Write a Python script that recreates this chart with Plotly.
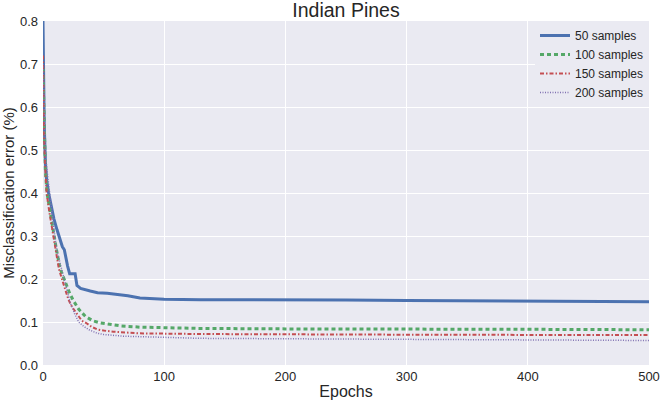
import plotly.graph_objects as go

# readings (epoch, misclassification error)
ep_50 = [0, 1, 2, 3, 4.6, 7.4, 9, 11.5, 13, 14.8, 16, 17.6, 19, 20.3, 22, 26.5, 28, 31, 39,
         45, 53, 62, 70, 80, 90, 100, 130, 200, 250, 300, 400, 450, 500]
err_50 = [0.80, 0.56, 0.47, 0.43, 0.40, 0.362, 0.34, 0.315, 0.30, 0.288, 0.275, 0.268, 0.245,
          0.23, 0.212, 0.212, 0.185, 0.178, 0.172, 0.168, 0.167, 0.164, 0.161, 0.156, 0.154,
          0.153, 0.152, 0.152, 0.151, 0.150, 0.149, 0.148, 0.147]

ep_100 = [0, 1, 2, 3.3, 5, 7.4, 9, 11, 14, 18, 22, 25, 29.4, 35, 41, 47, 55, 64, 80, 100,
          130, 200, 300, 400, 500]
err_100 = [0.69, 0.53, 0.45, 0.40, 0.37, 0.33, 0.30, 0.27, 0.225, 0.195, 0.167, 0.15, 0.13,
           0.113, 0.103, 0.098, 0.094, 0.091, 0.088, 0.087, 0.085, 0.084, 0.084, 0.083, 0.082]

ep_150 = [0, 1, 2, 3, 5, 8.7, 11, 13, 15.6, 18, 21, 24, 28, 32, 36, 40, 44.5, 50, 58, 70, 80,
          130, 200, 300, 400, 500]
err_150 = [0.72, 0.52, 0.45, 0.40, 0.36, 0.30, 0.26, 0.225, 0.20, 0.18, 0.152, 0.135, 0.12,
           0.103, 0.097, 0.089, 0.083, 0.080, 0.0775, 0.075, 0.0736, 0.072, 0.071, 0.0705,
           0.070, 0.070]

ep_200 = [0, 1, 2, 3, 4.6, 6.6, 9.7, 12, 15.6, 19, 22.5, 26, 29.4, 33.5, 38, 44.5, 50, 66, 90,
          130, 200, 300, 400, 500]
err_200 = [0.70, 0.58, 0.50, 0.46, 0.42, 0.38, 0.30, 0.26, 0.22, 0.18, 0.145, 0.12, 0.10,
           0.09, 0.082, 0.074, 0.071, 0.067, 0.065, 0.062, 0.061, 0.060, 0.059, 0.057]

y_ticks = [0.0, 0.1, 0.2, 0.3, 0.4, 0.5, 0.6, 0.7, 0.8]
x_ticks = [0, 100, 200, 300, 400, 500]

FONT = "Liberation Sans, Arial, sans-serif"
TEXT = "#262626"

series = [
    ("50 samples", ep_50, err_50, dict(color="#4C72B0", width=3)),
    ("100 samples", ep_100, err_100, dict(color="#55A868", width=3, dash="4px,3px")),
    ("150 samples", ep_150, err_150, dict(color="#C44E52", width=2, dash="4px,2px,1.5px,2px")),
    ("200 samples", ep_200, err_200, dict(color="#8172B2", width=1.5, dash="1px,1.5px")),
]

fig = go.Figure()
for name, x, y, line in series:
    fig.add_trace(go.Scatter(x=x, y=y, mode="lines", name=name, line=line))

fig.update_layout(
    width=661,
    height=402,
    margin=dict(l=43, r=12, t=21, b=37),
    paper_bgcolor="white",
    plot_bgcolor="#EAEAF2",
    font=dict(family=FONT, color=TEXT, size=13),
    title=dict(text="Indian Pines", x=0.5, xref="paper", y=1 - 10 / 402, yanchor="middle",
               font=dict(size=19.5, color=TEXT)),
    legend=dict(x=1, y=1.0, xanchor="right", yanchor="top", bgcolor="#EAEAF2",
                font=dict(size=12), tracegroupgap=0),
    showlegend=True,
)
fig.update_xaxes(
    range=[0, 500], tickvals=x_ticks, showgrid=True, gridcolor="white", gridwidth=1,
    zeroline=False, showline=False, ticks="", ticklabelstandoff=2, automargin=False,
    title=dict(text="Epochs", font=dict(size=16), standoff=2),
)
fig.update_yaxes(
    range=[0, 0.8], tickvals=y_ticks, tickformat=".1f", showgrid=True, gridcolor="white",
    gridwidth=1, zeroline=False, showline=False, ticks="", ticklabelstandoff=4,
    automargin=False,
    title=dict(text="Misclassification error (%)", font=dict(size=15), standoff=4),
)

# the page body has a default margin; drop it so the figure sits at the window corner
fig.write_html("out.html", config={"displayModeBar": False},
               post_script="document.body.style.margin='0';")
